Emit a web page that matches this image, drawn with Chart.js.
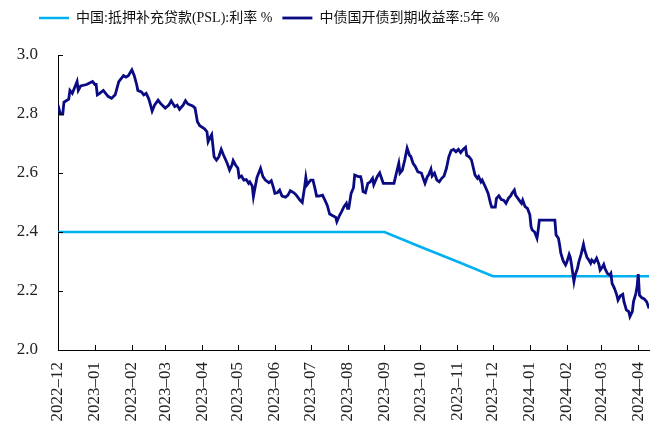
<!DOCTYPE html>
<html>
<head>
<meta charset="utf-8">
<script src="https://cdn.jsdelivr.net/npm/chart.js@4/dist/chart.umd.min.js"></script>
<style>
  body { margin: 0; background: #fff; }
  #wrap { width: 659px; height: 425px; }
</style>
</head>
<body>
<div id="wrap"><canvas id="chart" width="659" height="425"></canvas></div>
<script>
// 월 눈금 (x축)
var monthTicks = ['2022-12-01','2023-01-01','2023-02-01','2023-03-01','2023-04-01','2023-05-01','2023-06-01','2023-07-01','2023-08-01','2023-09-01','2023-10-01','2023-11-01','2023-12-01','2024-01-01','2024-02-01','2024-03-01','2024-04-01'];
var monthLabels = ['2022–12','2023–01','2023–02','2023–03','2023–04','2023–05','2023–06','2023–07','2023–08','2023–09','2023–10','2023–11','2023–12','2024–01','2024–02','2024–03','2024–04'];
var yTicks = [2.0, 2.2, 2.4, 2.6, 2.8, 3.0];

var seriesNames = ['中国:抵押补充贷款(PSL):利率 %', '中债国开债到期收益率:5年 %'];

// PSL 利率 (월별)
var pslDates = ['2022-12-01','2023-01-01','2023-02-01','2023-03-01','2023-04-01','2023-05-01','2023-06-01','2023-07-01','2023-08-01','2023-09-01','2023-10-01','2023-11-01','2023-12-01','2024-01-01','2024-02-01','2024-03-01','2024-04-01','2024-04-10'];
var pslRate = [2.40,2.40,2.40,2.40,2.40,2.40,2.40,2.40,2.40,2.40,2.35,2.30,2.25,2.25,2.25,2.25,2.25,2.25];

// 国开债 5年 收益率
var bondDates = ['2022-12-01','2022-12-03','2022-12-05','2022-12-06','2022-12-10','2022-12-11','2022-12-13','2022-12-15','2022-12-17','2022-12-18','2022-12-20','2022-12-25','2022-12-30',
'2023-01-01','2023-01-02','2023-01-03','2023-01-05','2023-01-08','2023-01-10','2023-01-12','2023-01-15','2023-01-18','2023-01-21','2023-01-23','2023-01-25','2023-01-27','2023-01-29',
'2023-02-01','2023-02-03','2023-02-05','2023-02-06','2023-02-09','2023-02-11','2023-02-13','2023-02-15','2023-02-16','2023-02-18','2023-02-20','2023-02-23','2023-02-25',
'2023-03-01','2023-03-04','2023-03-06','2023-03-09','2023-03-11','2023-03-13','2023-03-16','2023-03-18','2023-03-20','2023-03-24','2023-03-26','2023-03-28','2023-03-30',
'2023-04-03','2023-04-05','2023-04-06','2023-04-08','2023-04-09','2023-04-11','2023-04-13','2023-04-15','2023-04-17','2023-04-19','2023-04-22','2023-04-24','2023-04-26','2023-04-27','2023-04-29',
'2023-05-01','2023-05-02','2023-05-04','2023-05-06','2023-05-08','2023-05-10','2023-05-11','2023-05-13','2023-05-14','2023-05-15','2023-05-17','2023-05-20','2023-05-22','2023-05-24','2023-05-27','2023-05-29','2023-05-31',
'2023-06-01','2023-06-03','2023-06-05','2023-06-07','2023-06-10','2023-06-12','2023-06-14','2023-06-17','2023-06-19','2023-06-22','2023-06-24','2023-06-26','2023-06-27','2023-06-28',
'2023-07-01','2023-07-03','2023-07-05','2023-07-06','2023-07-08','2023-07-11','2023-07-13','2023-07-15','2023-07-17','2023-07-20','2023-07-22','2023-07-23','2023-07-25','2023-07-27','2023-07-29','2023-07-31',
'2023-08-01','2023-08-02','2023-08-04','2023-08-06','2023-08-07','2023-08-10','2023-08-12','2023-08-13','2023-08-14','2023-08-16','2023-08-18','2023-08-20','2023-08-22','2023-08-23','2023-08-26','2023-08-28','2023-08-29','2023-08-31',
'2023-09-04','2023-09-09','2023-09-11','2023-09-13','2023-09-14','2023-09-16','2023-09-18','2023-09-20','2023-09-22','2023-09-23','2023-09-25','2023-09-27','2023-09-29',
'2023-10-02','2023-10-04','2023-10-05','2023-10-07','2023-10-08','2023-10-10','2023-10-11','2023-10-13','2023-10-15','2023-10-17','2023-10-19','2023-10-21','2023-10-23','2023-10-25','2023-10-27','2023-10-29','2023-10-31',
'2023-11-02','2023-11-04','2023-11-06','2023-11-08','2023-11-09','2023-11-11','2023-11-13','2023-11-16','2023-11-18','2023-11-19','2023-11-21','2023-11-22','2023-11-25','2023-11-27','2023-11-29','2023-11-30',
'2023-12-03','2023-12-04','2023-12-06','2023-12-08','2023-12-10','2023-12-12','2023-12-14','2023-12-16','2023-12-17','2023-12-19','2023-12-20','2023-12-23','2023-12-25','2023-12-26','2023-12-28','2023-12-30',
'2024-01-01','2024-01-02','2024-01-03','2024-01-05','2024-01-07','2024-01-08','2024-01-09','2024-01-12','2024-01-17','2024-01-22','2024-01-23','2024-01-25','2024-01-26','2024-01-27','2024-01-29','2024-01-31',
'2024-02-01','2024-02-03','2024-02-04','2024-02-05','2024-02-07','2024-02-08','2024-02-10','2024-02-11','2024-02-13','2024-02-15','2024-02-16','2024-02-18','2024-02-19','2024-02-21','2024-02-22','2024-02-24','2024-02-26','2024-02-28','2024-02-29',
'2024-03-02','2024-03-03','2024-03-04','2024-03-06','2024-03-08','2024-03-09','2024-03-10','2024-03-12','2024-03-14','2024-03-15','2024-03-17','2024-03-19','2024-03-20','2024-03-22','2024-03-24','2024-03-25','2024-03-27','2024-03-28','2024-03-30','2024-03-31',
'2024-04-01','2024-04-02','2024-04-04','2024-04-06','2024-04-08','2024-04-10'];
var bondYield = [2.83,2.80,2.80,2.84,2.85,2.88,2.87,2.89,2.91,2.88,2.895,2.90,2.91,
2.90,2.90,2.865,2.87,2.88,2.87,2.86,2.853,2.865,2.91,2.92,2.93,2.925,2.93,
2.95,2.93,2.90,2.88,2.875,2.865,2.87,2.853,2.84,2.81,2.83,2.847,2.836,
2.82,2.83,2.845,2.825,2.83,2.816,2.83,2.845,2.834,2.827,2.82,2.774,2.76,
2.75,2.74,2.706,2.723,2.73,2.655,2.644,2.655,2.68,2.66,2.633,2.61,2.627,2.642,2.627,
2.616,2.585,2.59,2.576,2.578,2.565,2.57,2.556,2.52,2.542,2.585,2.616,2.588,2.576,2.567,2.574,2.548,
2.531,2.533,2.542,2.522,2.518,2.525,2.54,2.533,2.525,2.508,2.50,2.553,2.585,2.56,
2.576,2.576,2.542,2.522,2.522,2.525,2.508,2.49,2.461,2.454,2.45,2.435,2.454,2.469,2.486,2.497,
2.48,2.48,2.531,2.55,2.593,2.588,2.588,2.57,2.537,2.533,2.565,2.57,2.582,2.56,2.588,2.60,2.588,2.565,
2.565,2.565,2.60,2.633,2.60,2.61,2.644,2.684,2.66,2.657,2.633,2.621,2.604,
2.60,2.576,2.565,2.588,2.593,2.613,2.59,2.60,2.576,2.57,2.582,2.59,2.616,2.655,2.676,2.68,2.672,
2.68,2.669,2.68,2.687,2.66,2.655,2.644,2.593,2.582,2.588,2.57,2.576,2.55,2.531,2.497,2.484,
2.484,2.514,2.523,2.51,2.508,2.497,2.514,2.523,2.531,2.542,2.525,2.508,2.497,2.508,2.486,2.48,
2.458,2.418,2.407,2.40,2.379,2.407,2.44,2.44,2.44,2.44,2.39,2.379,2.356,2.328,2.302,2.288,
2.297,2.324,2.313,2.288,2.232,2.254,2.277,2.297,2.324,2.358,2.339,2.313,2.308,2.294,2.305,2.297,2.311,2.29,2.271,
2.282,2.29,2.277,2.26,2.254,2.26,2.226,2.209,2.186,2.169,2.184,2.189,2.164,2.136,2.13,2.113,2.13,2.164,2.192,2.215,
2.257,2.186,2.177,2.173,2.164,2.141];

// 날짜 -> 2022-12-01 기준 일수
var BASE = Date.UTC(2022, 11, 1);
function dayOf(s) {
    var p = s.split('-');
    return Math.round((Date.UTC(+p[0], +p[1] - 1, +p[2]) - BASE) / 86400000);
}
function toPoints(dates, vals) {
    var out = [];
    for (var i = 0; i < dates.length; i++) out.push({ x: dayOf(dates[i]), y: vals[i] });
    return out;
}
var tickDays = monthTicks.map(dayOf);

// 안쪽 눈금 + 범례 위치 조정
var innerTicks = {
    id: 'innerTicks',
    afterLayout: function (chart) {
        var lg = chart.legend;
        lg.left += 17; lg.right += 17;
        lg.top -= 20; lg.bottom -= 20;
    },
    afterDatasetsDraw: function (chart) {
        var ctx = chart.ctx, a = chart.chartArea, x = chart.scales.x, y = chart.scales.y;
        ctx.save();
        ctx.strokeStyle = '#000';
        ctx.lineWidth = 1;
        ctx.beginPath();
        y.ticks.forEach(function (t) {
            var py = Math.round(y.getPixelForValue(t.value)) + 0.5;
            ctx.moveTo(a.left, py);
            ctx.lineTo(a.left + 5, py);
        });
        x.ticks.forEach(function (t) {
            var px = Math.round(x.getPixelForValue(t.value)) + 0.5;
            ctx.moveTo(px, a.bottom);
            ctx.lineTo(px, a.bottom - 5);
        });
        ctx.stroke();
        ctx.restore();
    }
};

var serif = '"Liberation Serif", "Noto Sans CJK SC", serif';

new Chart(document.getElementById('chart').getContext('2d'), {
    type: 'line',
    data: {
        datasets: [{
            label: seriesNames[0],
            data: toPoints(pslDates, pslRate),
            borderColor: '#00b0f0',
            backgroundColor: '#00b0f0',
            borderWidth: 2.5,
            pointRadius: 0,
            tension: 0,
            order: 2
        }, {
            label: seriesNames[1],
            data: toPoints(bondDates, bondYield),
            borderColor: '#0a0a82',
            backgroundColor: '#0a0a82',
            borderWidth: 2.8,
            pointRadius: 0,
            tension: 0,
            order: 1
        }]
    },
    options: {
        responsive: false,
        animation: false,
        layout: { padding: { left: 12, right: 10, top: 2, bottom: 0 } },
        plugins: {
            tooltip: { enabled: false },
            legend: {
                position: 'top',
                align: 'start',
                labels: {
                    usePointStyle: true,
                    pointStyle: 'line',
                    pointStyleWidth: 30,
                    boxHeight: 14,
                    padding: 10,
                    color: '#111',
                    font: { family: serif, size: 14 },
                    sort: function (a, b) { return a.datasetIndex - b.datasetIndex; }
                }
            }
        },
        scales: {
            x: {
                type: 'linear',
                min: 0,
                max: dayOf('2024-04-10'),
                grid: { display: false, drawTicks: false },
                border: { display: true, color: '#000', width: 1 },
                afterBuildTicks: function (s) {
                    s.ticks = tickDays.map(function (v) { return { value: v }; });
                },
                afterFit: function (s) {
                    s.height = 75;
                    s.paddingLeft = 0;
                    s.paddingRight = 0;
                },
                ticks: {
                    autoSkip: false,
                    minRotation: 90,
                    maxRotation: 90,
                    padding: 12,
                    color: '#222',
                    font: { family: serif, size: 17 },
                    callback: function (v) {
                        var i = tickDays.indexOf(v);
                        return i >= 0 ? monthLabels[i] : '';
                    }
                }
            },
            y: {
                min: 2.0,
                max: 3.0,
                grid: { display: false, drawTicks: false },
                border: { display: true, color: '#000', width: 1 },
                afterBuildTicks: function (s) {
                    s.ticks = yTicks.map(function (v) { return { value: v }; });
                },
                afterFit: function (s) {
                    s.width = 46;
                    s.paddingTop = 55;
                    s.paddingBottom = 0;
                },
                ticks: {
                    padding: 20,
                    color: '#222',
                    font: { family: serif, size: 17 },
                    callback: function (v) { return v.toFixed(1); }
                }
            }
        }
    },
    plugins: [innerTicks]
});
</script>
</body>
</html>
